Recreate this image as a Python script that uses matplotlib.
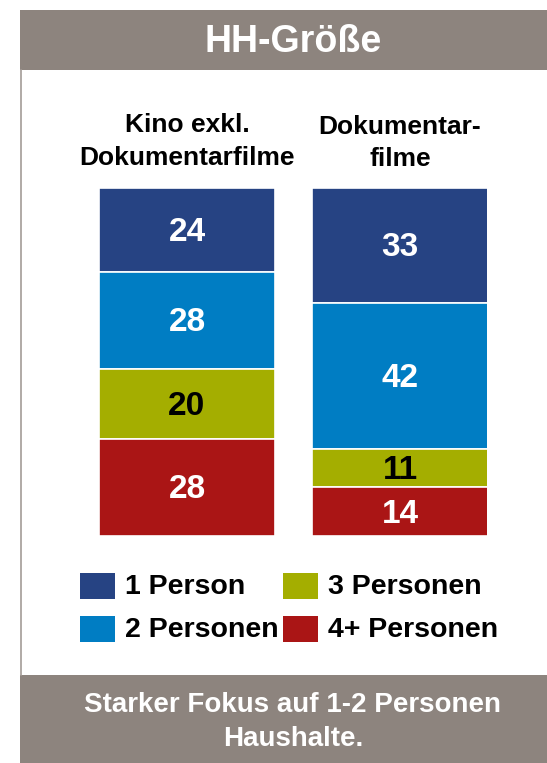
import matplotlib
matplotlib.use("Agg")
import matplotlib.pyplot as plt
from matplotlib.patches import Rectangle
import numpy as np

plt.rcParams['font.family'] = ['Liberation Sans', 'DejaVu Sans']

# Data
title = "HH-Größe"
column_titles = [["Kino exkl.", "Dokumentarfilme"], ["Dokumentar-", "filme"]]
series_names = ["1 Person", "2 Personen", "3 Personen", "4+ Personen"]
kino_values = [24, 28, 20, 28]
doku_values = [33, 42, 11, 14]
colors = ["#264383", "#007DC3", "#A4AE00", "#AA1515"]
label_colors = ["white", "white", "black", "white"]
footer = ["Starker Fokus auf 1-2 Personen", "Haushalte."]

W, H = 547, 763
fig = plt.figure(figsize=(W / 100, H / 100), dpi=100)

# Background decoration axes in pixel coordinates
bg = fig.add_axes([0, 0, 1, 1])
bg.set_xlim(0, W)
bg.set_ylim(H, 0)
bg.axis('off')
gray = "#8D847E"
bg.add_patch(Rectangle((20, 10), W - 20, 60, color=gray, lw=0))
bg.add_patch(Rectangle((20, 675), W - 20, 88, color=gray, lw=0))
bg.plot([20.5, 20.5], [70, 675], color="#A39C97", lw=1.2)
bg.text(293, 42, title, color="white", fontsize=27, fontweight='bold', ha='center', va='center')
bg.text(293, 705, footer[0], color="white", fontsize=20, fontweight='bold', ha='center', va='center')
bg.text(293, 739, footer[1], color="white", fontsize=20, fontweight='bold', ha='center', va='center')

# Column titles
for cx, ys, lines in zip([187, 400], [(125, 158), (127, 159)], column_titles):
    bg.text(cx, ys[0], lines[0], fontsize=19, fontweight='bold', ha='center', va='center')
    bg.text(cx, ys[1], lines[1], fontsize=19, fontweight='bold', ha='center', va='center')

# Bars axes: spans x 99..487 px, y 188..536 px
x0, x1, y0, y1 = 99, 487, 188, 536
ax = fig.add_axes([x0 / W, 1 - y1 / H, (x1 - x0) / W, (y1 - y0) / H])
ax.set_xlim(-0.413, 1.408)
ax.set_ylim(100, 0)
ax.axis('off')

data = np.array([kino_values, doku_values])  # rows = columns
positions = [0, 1]
bottoms = np.zeros(2)
for i, name in enumerate(series_names):
    vals = data[:, i]
    ax.bar(positions, vals, bottom=bottoms, width=0.822, color=colors[i],
           edgecolor='white', linewidth=1.2, label=name)
    for p, v, b in zip(positions, vals, bottoms):
        ax.text(p, b + v / 2 + 0.7, str(v), color=label_colors[i], fontsize=24,
                fontweight='bold', ha='center', va='center')
    bottoms += vals

# Legend
leg_items = [(80, 573, 0), (80, 616, 1), (283, 573, 2), (283, 616, 3)]
for lx, ly, i in leg_items:
    bg.add_patch(Rectangle((lx, ly), 35, 26, color=colors[i], lw=0))
    bg.text(lx + 45, ly + 14, series_names[i], fontsize=20.5, fontweight='bold',
            ha='left', va='center')

fig.savefig("out.png", dpi=100)
